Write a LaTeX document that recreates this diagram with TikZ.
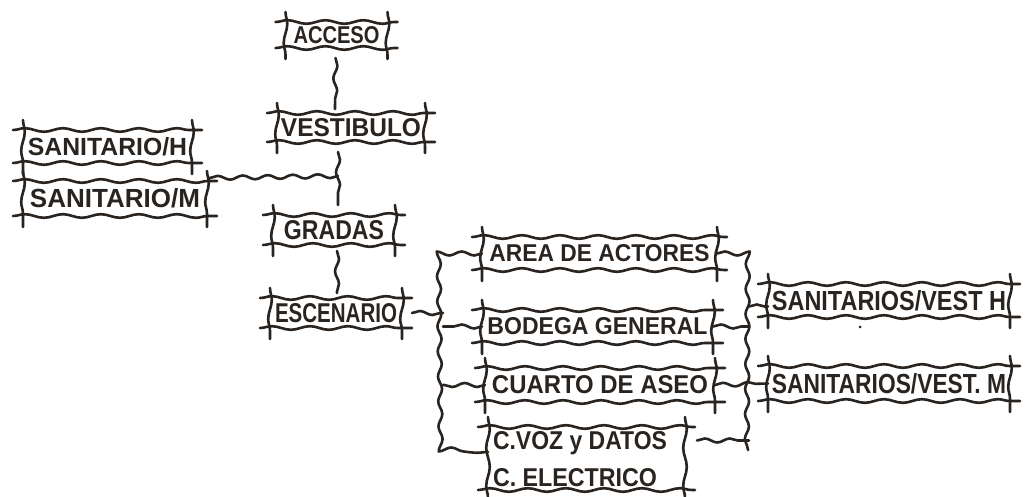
\documentclass[tikz,border=0pt]{standalone}
\usepackage{fontspec}
\setmainfont{Liberation Sans}
\usetikzlibrary{decorations.pathmorphing,calc}
\definecolor{inkc}{RGB}{42,36,32}
\newcommand\tx[3]{\resizebox{#1pt}{#2pt}{\textbf{#3}}}
\tikzset{
  ink/.style={draw=inkc, line width=2.6pt, line cap=round, line join=round,
    decorate, decoration={snake, amplitude=1.8pt, segment length=38pt}},
  wire/.style={ink, decoration={snake, amplitude=2pt, segment length=25pt}},
  room/.style 2 args={rectangle, inner sep=0pt, outer sep=0pt, text=inkc,
    minimum width=#1pt, minimum height=#2pt},
  lbl/.style={inner sep=0pt, outer sep=0pt, text=inkc, anchor=west}
}
\newcommand\skframe[1]{%
  \draw[ink] ([xshift=-10pt]#1.north west) -- ([xshift=10pt]#1.north east);
  \draw[ink] ([xshift=-10pt]#1.south west) -- ([xshift=10pt]#1.south east);
  \draw[ink] ([yshift=10pt]#1.north west) -- ([yshift=-11pt]#1.south west);
  \draw[ink] ([yshift=10pt]#1.north east) -- ([yshift=-11pt]#1.south east);}
\begin{document}
\begin{tikzpicture}[x=1pt,y=-1pt]
\fill[white] (0,0) rectangle (1029,497);
\useasboundingbox (0,0) rectangle (1029,497);

% rooms
\node[room={102}{26}] (acceso) at (336.5,35) {\tx{86}{17}{ACCESO}};
\node[room={148}{29}] (vestibulo) at (351,127.5) {\tx{140}{18}{VESTIBULO}};
\node[room={122}{30}] (gradas) at (334,230) {\tx{100}{19}{GRADAS}};
\node[room={132}{30}] (escenario) at (336,313) {\tx{122}{19}{ESCENARIO}};
\node[room={169}{33}] (sanH) at (107.5,146.5) {\tx{159}{18}{SANITARIO/H}};
\node[room={184}{35}] (sanM) at (115,198.5) {\tx{170}{19}{SANITARIO/M}};
\node[room={235}{33}] (area) at (599.5,253.5) {\tx{220}{17}{AREA DE ACTORES}};
\node[room={231}{33}] (bodega) at (597.5,326.5) {\tx{220}{17}{BODEGA GENERAL}};
\node[room={230}{34}] (cuarto) at (600,385) {\tx{216}{18}{CUARTO DE ASEO}};
\node[room={197}{63}] (cvoz) at (586.5,458.5) {};
\node[lbl] (cvozA) at (493,443) {\tx{174}{18}{C.VOZ y DATOS}};
\node[lbl] (cvozB) at (493,478) {\tx{164}{18}{C. ELECTRICO}};
\node[room={242}{33}] (vh) at (889,300.5) {\tx{234}{20}{SANITARIOS/VEST H}};
\node[room={242}{35}] (vm) at (889,383.5) {\tx{234}{20}{SANITARIOS/VEST. M}};

\foreach \n in {acceso,vestibulo,gradas,escenario,sanH,sanM,area,bodega,cuarto,cvoz,vh,vm}
  {\skframe{\n}}

% connectors
\draw[wire] ([shift={(-1,10)}]acceso.south) -- ([shift={(-16,-4)}]vestibulo.north);
\coordinate (j1) at (338,176);
\draw[wire] ([shift={(-13,10)}]vestibulo.south) -- (j1) -- ([shift={(4,-10)}]gradas.north);
\draw[wire] (j1) -- ([shift={(2,-3)}]sanM.north east);
\draw[wire] ([shift={(3,6)}]gradas.south) -- ([shift={(1,-5)}]escenario.north);

\coordinate (bl1) at (443,251);
\coordinate (bl2) at (445,452);
\draw[wire] (area.west) -- (area.west -| bl1) -- (bl2) -- (bl2 -| cvoz.west);
\draw[wire] ([xshift=10pt]escenario.east) -- (escenario.east -| bl1);
\draw[wire] (bodega.west) -- (bodega.west -| bl1);
\draw[wire] (cuarto.west) -- (cuarto.west -| bl1);

\coordinate (br1) at (749,253);
\coordinate (br2) at (748,450);
\draw[wire] (area.east) -- (area.east -| br1) -- (br2);
\draw[wire] (bodega.east) -- (bodega.east -| br1);
\draw[wire] (cuarto.east) -- (vm.west);
\coordinate (hh) at ([yshift=-6pt]vh.west);
\draw[wire] (hh -| br1) -- (hh);
\coordinate (ce) at ([shift={(12,-18)}]cvoz.east);
\draw[wire] (ce) -- (ce -| br1);

\fill[inkc] (860,327) circle (1.5pt);
\end{tikzpicture}
\end{document}
